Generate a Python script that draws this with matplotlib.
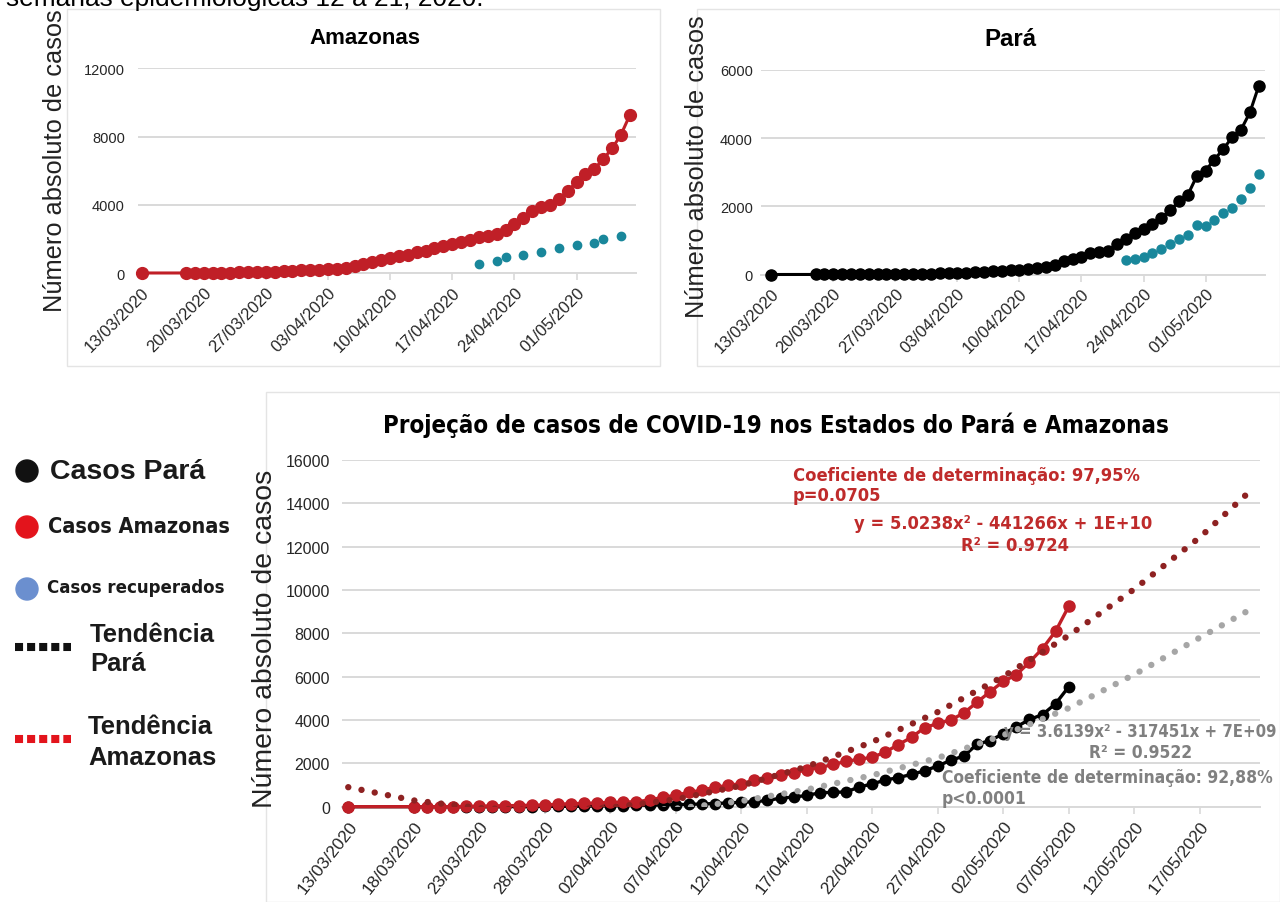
import matplotlib
matplotlib.use('Agg')
import matplotlib.pyplot as plt
import matplotlib.dates as mdates
from matplotlib import font_manager
from matplotlib.patches import Circle, Rectangle
import pandas as pd

# ---- values ----
case_dates = [pd.Timestamp('2020-03-13')] + list(pd.date_range('2020-03-18', '2020-05-07'))

amazonas_cases = [1,
                  1, 1, 2, 3, 11, 26, 32, 47, 54, 67, 81, 111, 140, 151, 175, 200, 210,
                  230, 310, 430, 530, 660, 760, 900, 980, 1070, 1210, 1310, 1440, 1560,
                  1700, 1800, 1950, 2090, 2190, 2280, 2520, 2870, 3200, 3650, 3840, 4000,
                  4330, 4820, 5310, 5780, 6090, 6670, 7300, 8100, 9250]
para_cases = [0,
              1, 1, 2, 2, 3, 4, 4, 5, 7, 9, 13, 16, 18, 25, 33, 41, 49,
              58, 68, 78, 98, 107, 127, 146, 175, 205, 224, 292, 390, 448, 517,
              643, 663, 682, 906, 1053, 1228, 1345, 1491, 1657, 1881, 2144, 2339,
              2885, 3050, 3372, 3684, 4025, 4250, 4756, 5535]

amazonas_rec_dates = pd.to_datetime(['2020-04-20', '2020-04-22', '2020-04-23', '2020-04-25',
                                     '2020-04-27', '2020-04-29', '2020-05-01', '2020-05-03',
                                     '2020-05-04', '2020-05-06'])
amazonas_recovered = [530, 690, 910, 1050, 1210, 1460, 1650, 1780, 1970, 2170]

para_rec_dates = pd.date_range('2020-04-22', '2020-05-07')
para_recovered = [419, 448, 517, 634, 760, 906, 1033, 1150, 1442, 1413, 1589, 1813,
                  1949, 2222, 2534, 2953]

# polynomial trend lines (read every 5 days)
trend_am_dates = list(pd.date_range('2020-03-13', '2020-05-17', freq='5D')) + [pd.Timestamp('2020-05-21')]
trend_amazonas = [900, 290, -60, -170, -40, 340, 970, 1850, 2990, 4370, 6010, 7900, 10040, 12430, 14650]
trend_pa_dates = list(pd.date_range('2020-04-02', '2020-05-17', freq='5D')) + [pd.Timestamp('2020-05-21')]
trend_para = [-250, -90, 260, 790, 1450, 2250, 3300, 4550, 6100, 7800, 9150]

# ---- styling ----
W, H = 1280, 903
RED = '#C01F27'
DARKRED = '#8E2222'
TEAL = '#19879B'
GREY = '#A6A6A6'
GRID = '#D9D9D9'
TXT = '#262626'

# a condensed face for the Excel-style "Arial Narrow" texts, if one is installed
fonts = font_manager.fontManager.ttflist
names = {f.name for f in fonts}
if 'Liberation Sans Narrow' in names:
    NARROW = dict(family='Liberation Sans Narrow')
elif any(f.name == 'DejaVu Sans' and f.stretch == 'condensed' for f in fonts):
    NARROW = dict(family='DejaVu Sans', stretch='condensed')
else:
    NARROW = dict(family='Liberation Sans')
plt.rcParams['font.family'] = ['Liberation Sans', 'DejaVu Sans']

fig = plt.figure(figsize=(W / 100, H / 100), dpi=100)
base = mdates.date2num(pd.Timestamp('2020-03-13'))


def px_rect(x0, y0, x1, y1):
    return [x0 / W, 1 - y1 / H, (x1 - x0) / W, (y1 - y0) / H]


def style_axes(ax, xlim, ylim, yticks, step, xfs, yfs, ypad, rot):
    ax.set_xlim(base + xlim[0], base + xlim[1])
    ax.set_ylim(*ylim)
    ax.set_yticks(yticks)
    ticks = pd.date_range('2020-03-13', periods=20, freq='%dD' % step)
    ticks = [t for t in mdates.date2num(ticks) if t <= base + xlim[1]]
    ax.set_xticks(ticks)
    ax.xaxis.set_major_formatter(mdates.DateFormatter('%d/%m/%Y'))
    ax.grid(axis='y', color=GRID, lw=1.4)
    ax.set_axisbelow(True)
    for s in ['top', 'right', 'left']:
        ax.spines[s].set_visible(False)
    ax.spines['bottom'].set_color(GRID)
    ax.spines['bottom'].set_linewidth(1.4)
    ax.tick_params(axis='x', length=5, width=1.2, color=GRID, pad=3, labelsize=xfs, labelcolor=TXT)
    ax.tick_params(axis='y', length=0, pad=ypad, labelsize=yfs, labelcolor=TXT)
    for lab in ax.get_xticklabels():
        lab.set_rotation(rot)
        lab.set_ha('right')
        lab.set_va('top')
        lab.set_rotation_mode('anchor')


# Amazonas panel
ax1 = fig.add_axes(px_rect(138, 69.3, 636, 274))
ax1.plot(case_dates, amazonas_cases, color=RED, lw=2.2, marker='o', ms=8.5, clip_on=False, zorder=3)
ax1.plot(amazonas_rec_dates, amazonas_recovered, ls='none', marker='o', ms=6, color=TEAL, zorder=3)
style_axes(ax1, (-0.4, 55.7), (0, 12000), [0, 4000, 8000, 12000], 7, 12, 10.5, 9.5, 45)

# Pará panel
ax2 = fig.add_axes(px_rect(761, 71, 1265, 275.5))
ax2.plot(case_dates, para_cases, color='black', lw=2.2, marker='o', ms=8, clip_on=False, zorder=3)
ax2.plot(para_rec_dates, para_recovered, ls='none', marker='o', ms=6.5, color=TEAL, zorder=3)
style_axes(ax2, (-1.15, 55.7), (0, 6000), [0, 2000, 4000, 6000], 7, 12, 10.5, 6, 45)

# projection panel
ax3 = fig.add_axes(px_rect(341.7, 461, 1260, 807.7))
ax3.plot(case_dates, para_cases, color='black', lw=2.4, marker='o', ms=7.5, clip_on=False, zorder=3)
ax3.plot(case_dates, amazonas_cases, color=RED, lw=2.4, marker='o', ms=8, clip_on=False, zorder=4)
ax3.plot(trend_pa_dates, trend_para, color=GREY, lw=4.6, ls=(0, (0.01, 2.1)),
         dash_capstyle='round', zorder=5)
ax3.plot(trend_am_dates, trend_amazonas, color=DARKRED, lw=4.6, ls=(0, (0.01, 2.1)),
         dash_capstyle='round', zorder=5)
style_axes(ax3, (-0.5, 69.6), (0, 16000), range(0, 16001, 2000), 5, 12.5, 11.5, 8.5, 52)

# ---- overlay in pixel coordinates ----
ov = fig.add_axes([0, 0, 1, 1], zorder=10)
ov.set_xlim(0, W)
ov.set_ylim(H, 0)
ov.axis('off')
ov.patch.set_visible(False)

renderer = fig.canvas.get_renderer()


def fit_text(x, y, s, width=None, size=12, vertical=False, **kw):
    t = ov.text(x, y, s, fontsize=size, **kw)
    if width is not None:
        bb = t.get_window_extent(renderer)
        cur = bb.height if vertical else bb.width
        t.set_fontsize(size * width / cur)
    return t


for r in [(67, 10, 660, 367), (697, 10, 1280, 367), (266, 393, 1280, 903)]:
    ov.add_patch(Rectangle((r[0], r[1]), r[2] - r[0], r[3] - r[1], fill=False, ec='#E4E4E4', lw=1))

# caption line of the page, cut by the top edge as in the source
fit_text(6, 6, 'semanas epidemiológicas 12 a 21, 2020.', width=477, size=18,
         ha='left', va='baseline', color='black')

yl = fit_text(697, 318, 'Número absoluto de casos', width=303, size=17, vertical=True,
              rotation=90, ha='center', va='bottom', color='#222222')
ov.text(55, 312, 'Número absoluto de casos', fontsize=yl.get_fontsize(), rotation=90,
        ha='center', va='bottom', color='#222222')
fit_text(265, 808, 'Número absoluto de casos', width=338, size=17, vertical=True,
         rotation=90, ha='center', va='bottom', color='#222222')

fit_text(365, 38, 'Amazonas', width=112, size=14, ha='center', va='center', weight='bold')
fit_text(1010, 40, 'Pará', width=52, size=14, ha='center', va='center', weight='bold')
fit_text(776, 425, 'Projeção de casos de COVID-19 nos Estados do Pará e Amazonas', width=792,
         size=16, ha='center', va='center', weight='bold', **NARROW)

ARED = '#BF2B2B'
AGREY = '#808080'
t = fit_text(793, 476, 'Coeficiente de determinação: 97,95%', width=348, size=14,
             ha='left', va='center', weight='bold', color=ARED, **NARROW)
fs = t.get_fontsize()
ov.text(793, 496, 'p=0.0705', fontsize=fs, ha='left', va='center', weight='bold', color=ARED, **NARROW)
ov.text(1003, 524, 'y = 5.0238x² - 441266x + 1E+10', fontsize=fs, ha='center', va='center',
        weight='bold', color=ARED, **NARROW)
ov.text(1015, 546, 'R² = 0.9724', fontsize=fs, ha='center', va='center', weight='bold', color=ARED, **NARROW)

t = fit_text(942, 778, 'Coeficiente de determinação: 92,88%', width=332, size=14,
             ha='left', va='center', weight='bold', color=AGREY, **NARROW)
fsg = t.get_fontsize()
ov.text(942, 799, 'p<0.0001', fontsize=fsg, ha='left', va='center', weight='bold', color=AGREY, **NARROW)
fit_text(1277, 732, 'y = 3.6139x² - 317451x + 7E+09', width=274, size=14, ha='right', va='center',
         weight='bold', color=AGREY, **NARROW)
ov.text(1141, 753, 'R² = 0.9522', fontsize=fsg, ha='center', va='center', weight='bold', color=AGREY, **NARROW)

# custom legend on the left
ov.add_patch(Circle((27, 472), 11, color='#111111'))
ov.add_patch(Circle((27, 528), 11, color='#E3141C'))
ov.add_patch(Circle((27, 590), 11, color='#6B8FCF'))
fit_text(50, 472, 'Casos Pará', width=155, size=18, ha='left', va='center', weight='bold', color='#1a1a1a')
fit_text(48, 527, 'Casos Amazonas', width=182, size=18, ha='left', va='center', weight='bold',
         color='#1a1a1a', **NARROW)
fit_text(47, 588, 'Casos recuperados', width=178, size=16, ha='left', va='center', weight='bold',
         color='#1a1a1a', **NARROW)
ov.plot([15, 71], [648, 648], color='#111111', lw=5.8, ls=(0, (1, 0.5)), dash_capstyle='butt')
ov.plot([15, 71], [740, 740], color='#E3141C', lw=5.8, ls=(0, (1, 0.5)), dash_capstyle='butt')
t = fit_text(90, 635, 'Tendência', width=125, size=18, ha='left', va='center', weight='bold', color='#1a1a1a')
ov.text(90, 664, 'Pará', fontsize=t.get_fontsize(), ha='left', va='center', weight='bold', color='#1a1a1a')
ov.text(88, 727, 'Tendência', fontsize=t.get_fontsize(), ha='left', va='center', weight='bold', color='#1a1a1a')
ov.text(88, 758, 'Amazonas', fontsize=t.get_fontsize(), ha='left', va='center', weight='bold', color='#1a1a1a')

fig.savefig('out.png', dpi=100)
